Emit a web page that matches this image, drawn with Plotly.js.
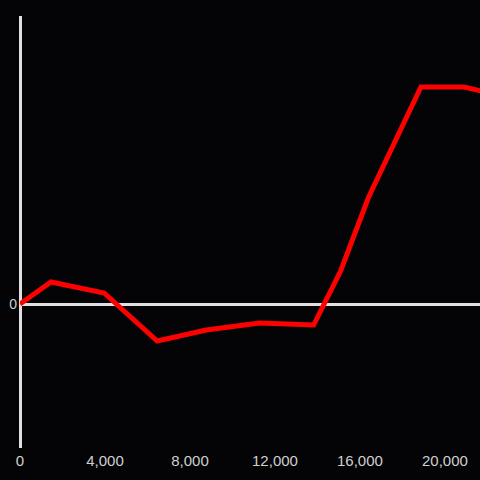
<!DOCTYPE html>
<html>
<head>
<meta charset="utf-8">
<script src="https://cdn.plot.ly/plotly-3.0.1.min.js"></script>
<style>html,body{margin:0;padding:0;background:#040305;}#chart{width:480px;height:480px;}</style>
</head>
<body>
<div id="chart"></div>
<script>
const xValues = [0, 1460, 3960, 6460, 8770, 11270, 13820, 15090, 16410, 18870, 20900, 21700];
const yValues = [0, 22, 11, -37, -26, -19, -21, 33, 107, 217, 217, 213];
const xTicks = [0, 4000, 8000, 12000, 16000, 20000];
const xTickText = ["0", "4,000", "8,000", "12,000", "16,000", "20,000"];

Plotly.newPlot('chart', [{
  x: xValues, y: yValues, type: 'scatter', mode: 'lines',
  line: {color: '#ff0000', width: 5},
  hoverinfo: 'skip'
}], {
  width: 480, height: 480,
  paper_bgcolor: '#040305', plot_bgcolor: '#040305',
  margin: {l: 20, r: 0, t: 16, b: 32},
  showlegend: false,
  font: {family: 'Liberation Sans, Arial, sans-serif', size: 14, color: '#d0d0d0'},
  xaxis: {
    range: [0, 21650], showgrid: false, zeroline: true, zerolinecolor: '#e0e0e0', zerolinewidth: 3,
    tickvals: xTicks, ticktext: xTickText, showline: false, ticks: '',
    ticklabelstandoff: 2,
    tickfont: {size: 15, color: '#d0d0d0'}
  },
  yaxis: {
    range: [-144, 288], showgrid: false, zeroline: true, zerolinecolor: '#e0e0e0', zerolinewidth: 3,
    tickvals: [0], ticktext: ['0'], showline: false, ticks: '',
    ticklabelstandoff: 2,
    tickfont: {size: 14, color: '#d0d0d0'}
  }
}, {staticPlot: true});
</script>
</body>
</html>
